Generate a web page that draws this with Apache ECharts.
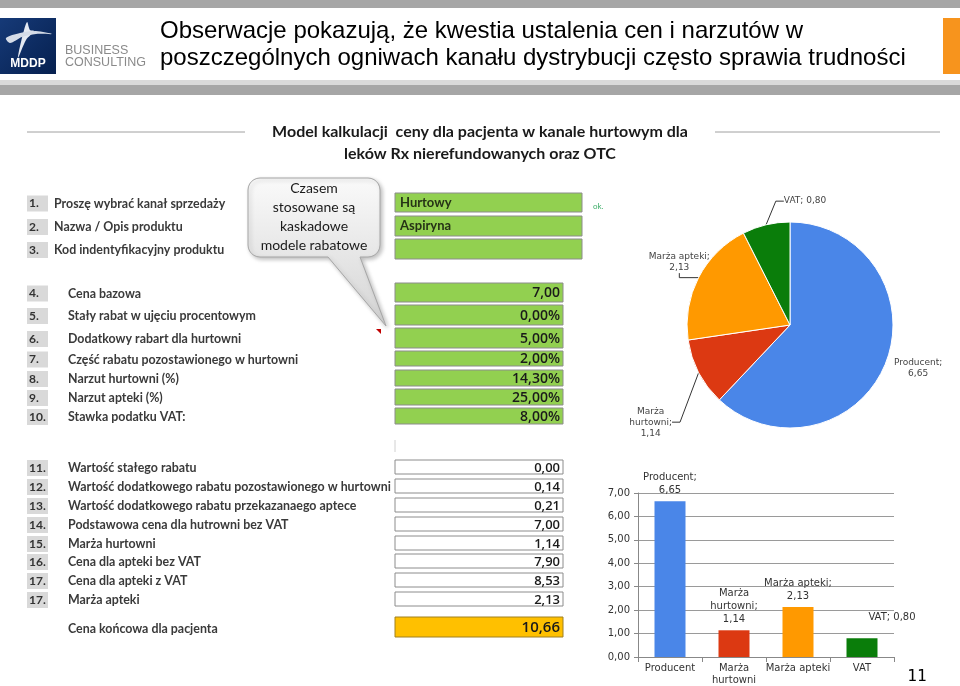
<!DOCTYPE html>
<html>
<head>
<meta charset="utf-8">
<script src="https://cdn.jsdelivr.net/npm/echarts@6/dist/echarts.min.js"></script>
<style>
html,body{margin:0;padding:0;background:#fff;}
#c{width:960px;height:686px;}
</style>
</head>
<body>
<div id="c"></div>
<script>
// ---------- data ----------
const titleLines = ['Obserwacje pokazują, że kwestia ustalenia cen i narzutów w', 'poszczególnych ogniwach kanału dystrybucji często sprawia trudności'];
const subtitleLines = ['Model kalkulacji  ceny dla pacjenta w kanale hurtowym dla', 'leków Rx nierefundowanych oraz OTC'];
const calloutLines = ['Czasem', 'stosowane są', 'kaskadowe', 'modele rabatowe'];

const stepNums = ['1.', '2.', '3.'];
const stepLabels = ['Proszę wybrać kanał sprzedaży', 'Nazwa / Opis produktu', 'Kod indentyfikacyjny produktu'];
const stepValues = ['Hurtowy', 'Aspiryna', ''];

const paramNums = ['4.', '5.', '6.', '7.', '8.', '9.', '10.'];
const paramLabels = ['Cena bazowa', 'Stały rabat w ujęciu procentowym', 'Dodatkowy rabart dla hurtowni', 'Część rabatu pozostawionego w hurtowni', 'Narzut hurtowni (%)', 'Narzut apteki (%)', 'Stawka podatku VAT:'];
const paramValues = ['7,00', '0,00%', '5,00%', '2,00%', '14,30%', '25,00%', '8,00%'];

const calcNums = ['11.', '12.', '13.', '14.', '15.', '16.', '17.', '17.'];
const calcLabels = ['Wartość stałego rabatu', 'Wartość dodatkowego rabatu pozostawionego w hurtowni', 'Wartość dodatkowego rabatu przekazanaego aptece', 'Podstawowa cena dla hutrowni bez VAT', 'Marża hurtowni', 'Cena dla apteki bez VAT', 'Cena dla apteki z VAT', 'Marża apteki'];
const calcValues = ['0,00', '0,14', '0,21', '7,00', '1,14', '7,90', '8,53', '2,13'];
const finalLabel = 'Cena końcowa dla pacjenta';
const finalValue = '10,66';

const parts = ['Producent', 'Marża hurtowni', 'Marża apteki', 'VAT'];
const partValues = [6.65, 1.14, 2.13, 0.80];
const axisLabelNames = ['Producent', 'Marża\nhurtowni', 'Marża apteki', 'VAT'];

// ---------- layout / style ----------
const colors = ['#4a86e8', '#dc3912', '#ff9900', '#0a7d0a'];
const fmt = v => v.toFixed(2).replace('.', ',');
const labelFont = 'Lato, "Open Sans", sans-serif';
const valFont = '"Open Sans", Lato, sans-serif';

const stepRows = [[193, 212], [216, 236], [239, 259]];
const paramRows = [[283, 302], [305, 325], [328, 348], [351, 366], [370, 386], [389, 405], [408, 424]];
const calcRows = [[460, 474], [479, 493], [498, 512], [517, 531], [536, 550], [554, 568], [573, 587], [592, 606]];
const finalRow = [617, 637];

function roundedPoly(x0, y0, x1, y1, r, tail) {
  const pts = [];
  const arc = (cx, cy, a0) => { for (let k = 0; k <= 6; k++) { const a = (a0 + k * 15) * Math.PI / 180; pts.push([cx + r * Math.cos(a), cy + r * Math.sin(a)]); } };
  arc(x0 + r, y0 + r, 180);
  arc(x1 - r, y0 + r, 270);
  arc(x1 - r, y1 - r, 0);
  tail.forEach(p => pts.push(p));
  arc(x0 + r, y1 - r, 90);
  return pts;
}

const g = [];
// header
g.push({type: 'rect', shape: {x: 0, y: 0, width: 960, height: 8}, style: {fill: '#a6a6a6'}});
g.push({type: 'rect', shape: {x: 0, y: 80, width: 960, height: 5}, style: {fill: '#d9d9d9'}});
g.push({type: 'rect', shape: {x: 0, y: 85, width: 960, height: 10}, style: {fill: '#a6a6a6'}});
g.push({type: 'rect', shape: {x: 0, y: 18, width: 56, height: 56}, style: {fill: new echarts.graphic.LinearGradient(0, 0, 1, 1, [{offset: 0, color: '#163a78'}, {offset: 1, color: '#06204f'}])}});
g.push({type: 'polygon', shape: {points: [[27, 22], [30, 30], [34, 31], [26, 40], [18, 58], [21, 42]], smooth: 0.3}, style: {fill: '#e4e9f2'}});
g.push({type: 'polygon', shape: {points: [[6, 38], [20, 33], [36, 31], [52, 34], [36, 34], [22, 37], [10, 43]], smooth: 0.3}, style: {fill: '#d5dce8'}});
g.push({type: 'text', style: {x: 28, y: 64, text: 'MDDP', font: 'bold 12px "Liberation Sans", Arial, sans-serif', fill: '#fff', align: 'center', verticalAlign: 'middle'}});
g.push({type: 'text', style: {x: 65, y: 51, text: 'BUSINESS', font: '12.5px "Liberation Sans", Arial, sans-serif', fill: '#8a8a8a', verticalAlign: 'middle'}});
g.push({type: 'text', style: {x: 65, y: 63, text: 'CONSULTING', font: '12.5px "Liberation Sans", Arial, sans-serif', fill: '#8a8a8a', verticalAlign: 'middle'}});
g.push({type: 'rect', shape: {x: 943, y: 18, width: 17, height: 56}, style: {fill: '#f7941d'}});
titleLines.forEach((t, i) => g.push({type: 'text', style: {x: 160, y: 31 + i * 27, text: t, font: '24px "Liberation Sans", Arial, sans-serif', fill: '#000', verticalAlign: 'middle'}}));

// subtitle
g.push({type: 'line', shape: {x1: 27, y1: 132, x2: 245, y2: 132}, style: {stroke: '#a0a0a0', lineWidth: 1}});
g.push({type: 'line', shape: {x1: 715, y1: 132, x2: 940, y2: 132}, style: {stroke: '#a0a0a0', lineWidth: 1}});
subtitleLines.forEach((t, i) => g.push({type: 'text', style: {x: 480, y: 132 + i * 22, text: t, font: 'bold 16px ' + labelFont, fill: '#1a1a1a', align: 'center', verticalAlign: 'middle'}}));

function numBox(num, yc) {
  g.push({type: 'rect', shape: {x: 27, y: yc - 8, width: 21, height: 16}, style: {fill: '#d9d9d9'}});
  g.push({type: 'text', style: {x: 29, y: yc, text: num, font: 'bold 12px ' + labelFont, fill: '#333', verticalAlign: 'middle'}});
}
function label(t, x, yc) {
  g.push({type: 'text', style: {x: x, y: yc, text: t, font: 'bold 12.4px ' + labelFont, fill: '#3a3a3a', verticalAlign: 'middle'}});
}
// rows 1-3
stepLabels.forEach((t, i) => {
  const [y0, y1] = stepRows[i], yc = (y0 + y1) / 2 + 1;
  numBox(stepNums[i], yc);
  label(t, 54, yc);
  g.push({type: 'rect', shape: {x: 395, y: y0, width: 187, height: y1 - y0}, style: {fill: '#92d050', stroke: '#8c8c8c', lineWidth: 1}});
  if (stepValues[i]) g.push({type: 'text', style: {x: 400, y: (y0 + y1) / 2, text: stepValues[i], font: 'bold 13px ' + labelFont, fill: '#263316', verticalAlign: 'middle'}});
});
g.push({type: 'text', style: {x: 593, y: 206, text: 'ok.', font: '8px ' + labelFont, fill: '#3fae6a', verticalAlign: 'middle'}});

// rows 4-10
paramLabels.forEach((t, i) => {
  const [y0, y1] = paramRows[i], yc = (y0 + y1) / 2 + 1;
  numBox(paramNums[i], yc);
  label(t, 68, yc);
  g.push({type: 'rect', shape: {x: 395, y: y0, width: 168, height: y1 - y0}, style: {fill: '#92d050', stroke: '#8c8c8c', lineWidth: 1}});
  g.push({type: 'text', style: {x: 560, y: (y0 + y1) / 2 + 1, text: paramValues[i], font: '600 14px ' + valFont, fill: '#1a1a1a', align: 'right', verticalAlign: 'middle'}});
});

g.push({type: 'line', shape: {x1: 395, y1: 440, x2: 395, y2: 452}, style: {stroke: '#d0d0d0', lineWidth: 1}});

// rows 11-17
calcLabels.forEach((t, i) => {
  const [y0, y1] = calcRows[i], yc = (y0 + y1) / 2 + 1;
  numBox(calcNums[i], yc);
  label(t, 68, yc);
  g.push({type: 'rect', shape: {x: 395, y: y0, width: 168, height: y1 - y0}, style: {fill: '#fff', stroke: '#8c8c8c', lineWidth: 1}});
  g.push({type: 'text', style: {x: 560, y: (y0 + y1) / 2 + 1, text: calcValues[i], font: '600 13px ' + valFont, fill: '#1a1a1a', align: 'right', verticalAlign: 'middle'}});
});
label(finalLabel, 68, (finalRow[0] + finalRow[1]) / 2 + 2);
g.push({type: 'rect', shape: {x: 395, y: finalRow[0], width: 168, height: finalRow[1] - finalRow[0]}, style: {fill: '#ffc000', stroke: '#a08020', lineWidth: 1}});
g.push({type: 'text', style: {x: 560, y: (finalRow[0] + finalRow[1]) / 2 + 1, text: finalValue, font: '600 15px ' + valFont, fill: '#1a1a1a', align: 'right', verticalAlign: 'middle'}});

// callout
g.push({type: 'polygon', shape: {points: roundedPoly(248, 178, 380, 257, 12, [[360, 257], [386, 326], [328, 257]])},
  style: {fill: new echarts.graphic.LinearGradient(0, 0, 0, 1, [{offset: 0, color: '#fafafa'}, {offset: 1, color: '#d4d4d4'}]), stroke: '#a6a6a6', lineWidth: 1, shadowBlur: 4, shadowColor: 'rgba(0,0,0,0.25)', shadowOffsetX: 2, shadowOffsetY: 2}});
calloutLines.forEach((t, i) => g.push({type: 'text', style: {x: 314, y: 188 + i * 19, text: t, font: '14px ' + labelFont, fill: '#1a1a1a', align: 'center', verticalAlign: 'middle'}}));
g.push({type: 'polygon', shape: {points: [[376, 329], [381, 329], [381, 334]]}, style: {fill: '#c00000'}});

// page number
g.push({type: 'text', style: {x: 917, y: 677, text: '11', font: '16px "DejaVu Sans Mono", monospace', fill: '#000', align: 'center', verticalAlign: 'middle'}});

const pieBreak = ['\n', '\n', '\n', ' '];
const pieNames = ['Producent', 'Marża\nhurtowni', 'Marża apteki', 'VAT'];
const pieShift = [[-16, 1], [-3, 44], [35, -10], [76, -12]];
const barOffsets = [[0, 0], [0, 0], [0, 0], [30, -10]];

const chart = echarts.init(document.getElementById('c'));
chart.setOption({
  animation: false,
  graphic: {elements: g},
  grid: {left: 638, right: 66, top: 493, bottom: 27},
  xAxis: {type: 'category', data: parts,
    axisLine: {lineStyle: {color: '#888'}}, axisTick: {show: true, lineStyle: {color: '#888'}},
    axisLabel: {interval: 0, color: '#333', fontSize: 10, fontFamily: '"DejaVu Sans", Verdana, sans-serif', lineHeight: 12, margin: 5,
      formatter: (v, i) => axisLabelNames[i]}},
  yAxis: {type: 'value', min: 0, max: 7, interval: 1,
    axisLine: {show: true, lineStyle: {color: '#888'}}, axisTick: {show: true, length: 4, lineStyle: {color: '#888'}},
    splitLine: {lineStyle: {color: '#9a9a9a'}},
    axisLabel: {color: '#333', fontSize: 10, fontFamily: '"DejaVu Sans", Verdana, sans-serif', margin: 8, formatter: v => fmt(v)}},
  series: [
    {type: 'pie', left: 0, top: 0, right: -200, bottom: 0, center: [790, 325], radius: 103, startAngle: 90, clockwise: true,
      itemStyle: {borderColor: '#fff', borderWidth: 1},
      label: {color: '#444', fontSize: 9, fontFamily: '"DejaVu Sans", Verdana, sans-serif', lineHeight: 11, overflow: 'none',
        formatter: p => pieNames[p.dataIndex] + ';' + pieBreak[p.dataIndex] + fmt(p.value)},
      labelLine: {length: 12, length2: 8, lineStyle: {color: '#333', width: 1}},
      labelLayout: p => {
        const r = p.labelRect, s = pieShift[p.dataIndex];
        return {x: r.x + r.width / 2 + s[0], y: r.y + s[1], align: 'center', verticalAlign: 'top'};
      },
      data: parts.map((n, i) => ({name: n, value: partValues[i], itemStyle: {color: colors[i]}, labelLine: {show: i !== 0}}))},
    {type: 'bar', barWidth: 31,
      label: {show: true, position: 'top', distance: 4, color: '#333', fontSize: 10, fontFamily: '"DejaVu Sans", Verdana, sans-serif', lineHeight: 13,
        formatter: p => pieNames[p.dataIndex] + ';' + pieBreak[p.dataIndex] + fmt(p.value)},
      data: partValues.map((v, i) => ({value: v, itemStyle: {color: colors[i]}, label: {offset: barOffsets[i]}}))}
  ]
});
</script>
</body>
</html>
